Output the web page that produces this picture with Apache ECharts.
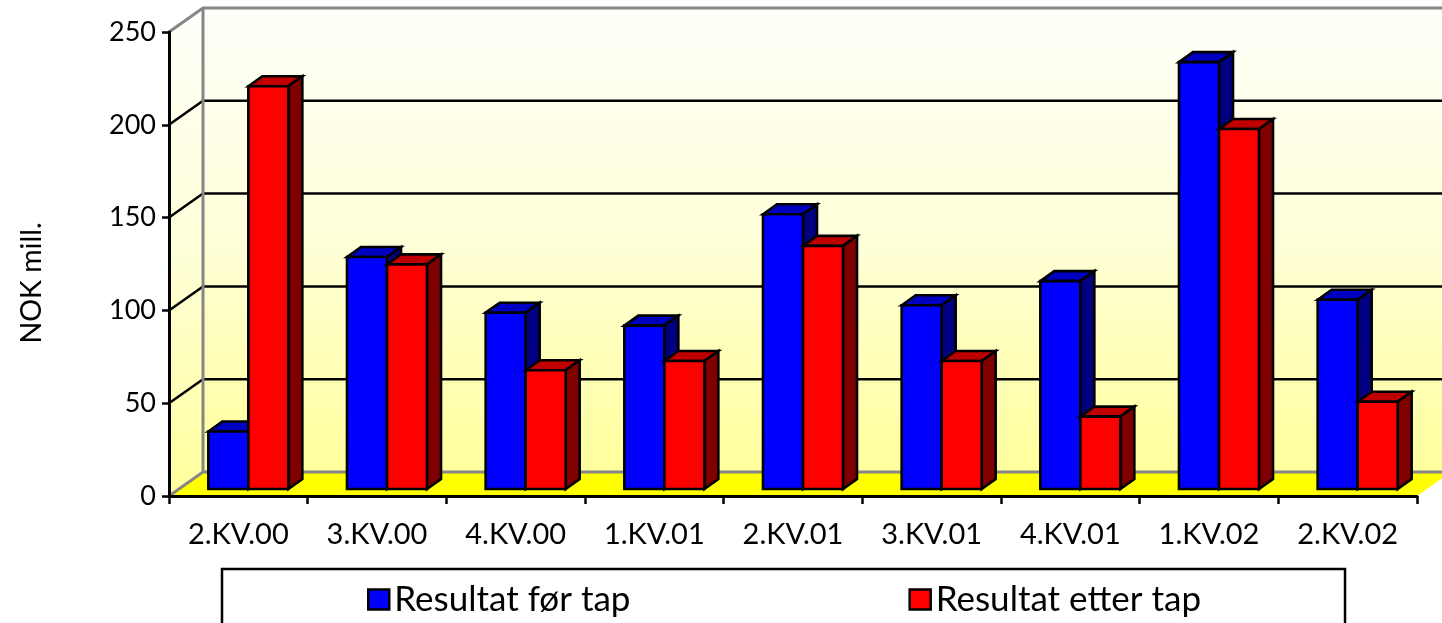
<!DOCTYPE html>
<html><head><meta charset="utf-8">
<style>html,body{margin:0;padding:0;background:#fff}#c{width:1442px;height:623px}</style>
<script src="https://cdn.jsdelivr.net/npm/echarts@6/dist/echarts.min.js"></script>
</head><body><div id="c"></div>
<script>
const categories=['2.KV.00','3.KV.00','4.KV.00','1.KV.01','2.KV.01','3.KV.01','4.KV.01','1.KV.02','2.KV.02'];
const foerTap=[31,125,95,88,148,99,112,230,102];
const etterTap=[217,121,64,69,131,69,39,194,47];
const yTicks=[0,50,100,150,200,250];
const FONT='Lato';
const DX=34,DY=24,FDX=10,FDY=7,BDX=14,BDY=10,BW=40;
const chart=echarts.init(document.getElementById('c'),null,{renderer:'canvas'});
const wallFill=new echarts.graphic.LinearGradient(0,0,0,1,[{offset:0,color:'#FFFFFA'},{offset:0.5,color:'#FFFFD8'},{offset:1,color:'#FFFF9C'}]);
function wallItem(params,api){
  const r=params.coordSys,x0=r.x,x1=r.x+r.width,yt=r.y,yb=r.y+r.height;
  const kids=[];
  kids.push({type:'polygon',shape:{points:[[x0,yb],[x0+DX,yb-DY],[x0+DX,yt-DY],[x0,yt]]},style:{fill:wallFill}});
  kids.push({type:'rect',shape:{x:x0+DX,y:yt-DY,width:r.width,height:r.height},style:{fill:wallFill}});
  kids.push({type:'polygon',shape:{points:[[x0,yb],[x1,yb],[x1+DX,yb-DY],[x0+DX,yb-DY]]},style:{fill:'#FFFF00'}});
  yTicks.forEach(t=>{
    const y=api.coord([0,t])[1];
    const edge=(t===0||t===250);
    const col=edge?'#868686':'#000';
    kids.push({type:'polyline',shape:{points:[[x0,y],[x0+DX,y-DY],[x1+DX,y-DY]]},style:{fill:null,stroke:col,lineWidth:edge?3:2.5}});
  });
  kids.push({type:'line',shape:{x1:x0+DX,y1:yt-DY,x2:x0+DX,y2:yb-DY},style:{stroke:'#868686',lineWidth:3}});
  return {type:'group',children:kids};
}
function barRender(front,top,side,slot){
  return function(params,api){
    const i=api.value(0),v=api.value(1);
    const t=api.coord([i,v]),b=api.coord([i,0]);
    const l=t[0]-BW+slot*BW+FDX,r=l+BW,yt=t[1]-FDY,yb=b[1]-FDY;
    const st={stroke:'#000',lineWidth:2.6,lineJoin:'miter'};
    return {type:'group',children:[
      {type:'polygon',shape:{points:[[l,yt],[l+BDX,yt-BDY],[r+BDX,yt-BDY],[r,yt]]},style:{...st,fill:top}},
      {type:'polygon',shape:{points:[[r,yt],[r+BDX,yt-BDY],[r+BDX,yb-BDY],[r,yb]]},style:{...st,fill:side}},
      {type:'rect',shape:{x:l,y:yt,width:BW,height:yb-yt},style:{...st,fill:front}}
    ]};
  };
}
chart.setOption({
  animation:false,
  grid:{left:169,right:25,top:32,bottom:127,containLabel:false},
  xAxis:{type:'category',data:categories,boundaryGap:true,z:10,
    axisLine:{show:true,lineStyle:{color:'#000',width:3},onZero:false},
    axisTick:{show:true,length:8,alignWithLabel:false,lineStyle:{color:'#000',width:2.5}},
    axisLabel:{color:'#000',fontFamily:FONT,fontSize:29,margin:24,interval:0},
    splitLine:{show:false}},
  yAxis:{type:'value',min:0,max:250,interval:50,z:10,
    axisLine:{show:true,lineStyle:{color:'#000',width:3}},
    axisTick:{show:true,length:7,lineStyle:{color:'#000',width:2.5}},
    axisLabel:{color:'#000',fontFamily:FONT,fontSize:27,margin:13},
    splitLine:{show:false}},
  legend:{left:222,top:569,orient:'horizontal',
    data:['Resultat før tap','Resultat etter tap'],
    backgroundColor:'#fff',borderColor:'#000',borderWidth:2.5,borderRadius:0,
    padding:[13,144,40,145],itemGap:278,itemWidth:21,itemHeight:20,symbolKeepAspect:false,
    icon:'rect',itemStyle:{borderColor:'#000',borderWidth:2.5},
    textStyle:{color:'#000',fontFamily:FONT,fontSize:35},
    selectedMode:false},
  graphic:[{type:'text',x:32,y:283,rotation:Math.PI/2,
    style:{text:'NOK mill.',fontFamily:FONT,fontSize:28.5,fill:'#000',align:'center',verticalAlign:'middle'}}],
  series:[
    {type:'custom',name:'wall',silent:true,z:1,data:[[0,0]],renderItem:wallItem,clip:false},
    {type:'custom',name:'Resultat før tap',z:2,clip:false,itemStyle:{color:'#0000FF'},
      data:foerTap.map((v,i)=>[i,v]),encode:{x:0,y:1},renderItem:barRender('#0000FF','#0000C0','#000080',0)},
    {type:'custom',name:'Resultat etter tap',z:3,clip:false,itemStyle:{color:'#FF0000'},
      data:etterTap.map((v,i)=>[i,v]),encode:{x:0,y:1},renderItem:barRender('#FF0000','#C00000','#800000',1)}
  ]
});
</script></body></html>
